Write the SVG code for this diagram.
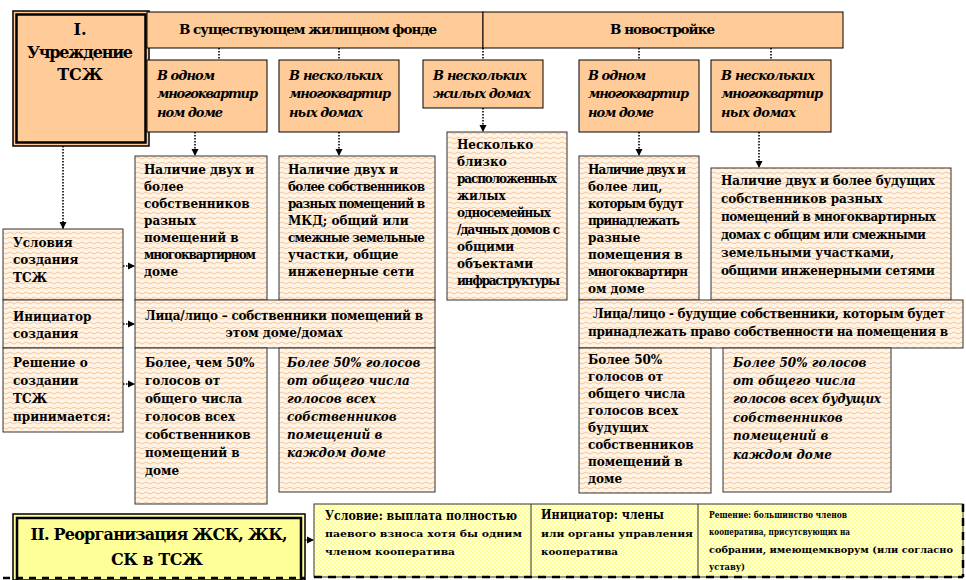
<svg xmlns="http://www.w3.org/2000/svg" width="966" height="580" viewBox="0 0 966 580">
<style>
.t{font-family:'DejaVu Serif','Liberation Serif',serif;font-weight:bold;font-size:12px;fill:#000}
.it{font-style:italic;font-size:13px}
.ii{font-style:italic}
.big{font-size:16px}
.band{font-size:13.5px}
.sm{font-size:9.5px}
.peach{fill:#FFCC99;stroke:#000;stroke-width:1}
.wv{fill:url(#wave);stroke:#333;stroke-width:1}
.conn{stroke:#000;stroke-width:1.6;stroke-dasharray:1.5 1.5;fill:none}
.arr{marker-end:url(#ah)}
</style>
<defs>
<pattern id="wave" width="8" height="5" patternUnits="userSpaceOnUse">
<rect width="8" height="5" fill="#FFF4E6"/>
<path d="M0,3 Q2,1 4,3 T8,3" fill="none" stroke="#F2C08C" stroke-width="0.9"/>
</pattern>
<pattern id="chk" width="4" height="4" patternUnits="userSpaceOnUse">
<rect width="4" height="4" fill="#FFFFE0"/>
<rect width="2" height="2" fill="#FFFF8C"/>
<rect x="2" y="2" width="2" height="2" fill="#FFFF8C"/>
</pattern>
<marker id="ah" markerWidth="8" markerHeight="8" refX="7" refY="4" orient="auto" markerUnits="userSpaceOnUse">
<path d="M0,0.5 L7,4 L0,7.5 z" fill="#000"/>
</marker>
</defs>

<g id="n-title1">
<rect x="13" y="11" width="136" height="135" fill="#FFCC99" stroke="#000" stroke-width="1.5"/>
<rect x="16.5" y="14.5" width="129" height="128" fill="none" stroke="#000" stroke-width="2.5"/>
<text class="t big" text-anchor="middle"><tspan x="80" y="35">I.</tspan><tspan x="80" y="58" textLength="106">Учреждение</tspan><tspan x="80" y="80">ТСЖ</tspan></text>
</g>

<g id="n-band-existing">
<rect class="peach" x="147" y="12" width="336" height="36"/>
<text class="t band" x="179" y="34" textLength="258">В существующем жилищном фонде</text>
</g>
<g id="n-band-new">
<rect class="peach" x="483" y="12" width="360" height="36"/>
<text class="t band" x="610" y="34" textLength="105">В новостройке</text>
</g>

<g id="n-ex-one">
<rect class="peach" x="147" y="60" width="120" height="72"/>
<text class="t it"><tspan x="157" y="80" textLength="58">В одном</tspan><tspan x="157" y="98" textLength="101">многоквартир</tspan><tspan x="157" y="117" textLength="66">ном доме</tspan></text>
</g>
<g id="n-ex-several">
<rect class="peach" x="279" y="60" width="120" height="72"/>
<text class="t it"><tspan x="289" y="80" textLength="94">В нескольких</tspan><tspan x="289" y="98" textLength="102">многоквартир</tspan><tspan x="289" y="117" textLength="74">ных домах</tspan></text>
</g>
<g id="n-ex-houses">
<rect class="peach" x="423" y="60" width="120" height="48"/>
<text class="t it"><tspan x="433" y="80" textLength="94">В нескольких</tspan><tspan x="433" y="98" textLength="98">жилых домах</tspan></text>
</g>
<g id="n-new-one">
<rect class="peach" x="579" y="60" width="120" height="72"/>
<text class="t it"><tspan x="588" y="80" textLength="58">В одном</tspan><tspan x="588" y="98" textLength="101">многоквартир</tspan><tspan x="588" y="117" textLength="66">ном доме</tspan></text>
</g>
<g id="n-new-several">
<rect class="peach" x="711" y="60" width="120" height="72"/>
<text class="t it"><tspan x="721" y="80" textLength="94">В нескольких</tspan><tspan x="721" y="98" textLength="102">многоквартир</tspan><tspan x="721" y="117" textLength="75">ных домах</tspan></text>
</g>

<g id="n-cond-label">
<rect class="wv" x="3" y="229" width="120" height="71"/>
<text class="t"><tspan x="13" y="247">Условия</tspan><tspan x="13" y="264">создания</tspan><tspan x="13" y="282">ТСЖ</tspan></text>
</g>
<g id="n-init-label">
<rect class="wv" x="3" y="300" width="120" height="48"/>
<text class="t"><tspan x="13" y="321">Инициатор</tspan><tspan x="13" y="338">создания</tspan></text>
</g>
<g id="n-dec-label">
<rect class="wv" x="3" y="348" width="120" height="84"/>
<text class="t"><tspan x="13" y="367">Решение о</tspan><tspan x="13" y="385">создании</tspan><tspan x="13" y="403">ТСЖ</tspan><tspan x="13" y="421">принимается:</tspan></text>
</g>

<g id="n-cond-ex-one">
<rect class="wv" x="135" y="156" width="132" height="144"/>
<text class="t"><tspan x="144" y="174">Наличие двух и</tspan><tspan x="144" y="191">более</tspan><tspan x="144" y="208">собственников</tspan><tspan x="144" y="225">разных</tspan><tspan x="144" y="242">помещений в</tspan><tspan x="144" y="259" textLength="112">многоквартирном</tspan><tspan x="144" y="276">доме</tspan></text>
</g>
<g id="n-cond-ex-several">
<rect class="wv" x="279" y="156" width="156" height="144"/>
<text class="t"><tspan x="288" y="174">Наличие двух и</tspan><tspan x="288" y="191" textLength="137">более собственников</tspan><tspan x="288" y="208" textLength="137">разных помещений в</tspan><tspan x="288" y="225">МКД; общий или</tspan><tspan x="288" y="242" textLength="137">смежные земельные</tspan><tspan x="288" y="259">участки, общие</tspan><tspan x="288" y="276">инженерные  сети</tspan></text>
</g>
<g id="n-cond-houses">
<rect class="wv" x="447" y="132" width="120" height="168"/>
<text class="t"><tspan x="457" y="149">Несколько</tspan><tspan x="457" y="166">близко</tspan><tspan x="457" y="183" textLength="100">расположенных</tspan><tspan x="457" y="200">жилых</tspan><tspan x="457" y="217" textLength="94">односемейных</tspan><tspan x="457" y="234" textLength="103">/дачных домов с</tspan><tspan x="457" y="251">общими</tspan><tspan x="457" y="268">объектами</tspan><tspan x="457" y="285" textLength="103">инфраструктуры</tspan></text>
</g>
<g id="n-cond-new-one">
<rect class="wv" x="579" y="156" width="120" height="144"/>
<text class="t"><tspan x="588" y="174" textLength="98">Наличие двух и</tspan><tspan x="588" y="191">более лиц,</tspan><tspan x="588" y="208" textLength="96">которым будут</tspan><tspan x="588" y="225" textLength="92">принадлежать</tspan><tspan x="588" y="242">разные</tspan><tspan x="588" y="259">помещения в</tspan><tspan x="588" y="276" textLength="100">многоквартирн</tspan><tspan x="588" y="293">ом доме</tspan></text>
</g>
<g id="n-cond-new-several">
<rect class="wv" x="711" y="168" width="240" height="132"/>
<text class="t"><tspan x="721" y="185" textLength="214">Наличие двух и более будущих</tspan><tspan x="721" y="203">собственников разных</tspan><tspan x="721" y="221" textLength="215">помещений в многоквартирных</tspan><tspan x="721" y="239" textLength="205">домах с общим или смежными</tspan><tspan x="721" y="257">земельными участками,</tspan><tspan x="721" y="275" textLength="214">общими инженерными сетями</tspan></text>
</g>

<g id="n-init-ex">
<rect class="wv" x="135" y="300" width="300" height="48"/>
<text class="t" text-anchor="middle"><tspan x="284" y="320" textLength="278">Лица/лицо – собственники помещений в</tspan><tspan x="284" y="337">этом доме/домах</tspan></text>
</g>
<g id="n-init-new">
<rect class="wv" x="579" y="300" width="384" height="48"/>
<text class="t" text-anchor="middle"><tspan x="769" y="318" textLength="352">Лица/лицо - будущие собственники, которым будет</tspan><tspan x="768" y="336" textLength="360">принадлежать право собственности на помещения в</tspan></text>
</g>

<g id="n-dec-ex-one">
<rect class="wv" x="135" y="348" width="132" height="156"/>
<text class="t"><tspan x="145" y="367">Более, чем 50%</tspan><tspan x="145" y="385">голосов от</tspan><tspan x="145" y="403">общего числа</tspan><tspan x="145" y="421">голосов всех</tspan><tspan x="145" y="439">собственников</tspan><tspan x="145" y="457">помещений в</tspan><tspan x="145" y="475">доме</tspan></text>
</g>
<g id="n-dec-ex-several">
<rect class="wv" x="279" y="348" width="156" height="144"/>
<text class="t ii"><tspan x="287" y="367">Более 50% голосов</tspan><tspan x="287" y="385">от общего числа</tspan><tspan x="287" y="403">голосов всех</tspan><tspan x="287" y="421">собственников</tspan><tspan x="287" y="439">помещений в</tspan><tspan x="287" y="457">каждом доме</tspan></text>
</g>
<g id="n-dec-new-one">
<rect class="wv" x="579" y="348" width="132" height="145"/>
<text class="t"><tspan x="588" y="364">Более 50%</tspan><tspan x="588" y="381">голосов от</tspan><tspan x="588" y="398">общего числа</tspan><tspan x="588" y="415">голосов всех</tspan><tspan x="588" y="432">будущих</tspan><tspan x="588" y="449">собственников</tspan><tspan x="588" y="466">помещений в</tspan><tspan x="588" y="483">доме</tspan></text>
</g>
<g id="n-dec-new-several">
<rect class="wv" x="723" y="348" width="168" height="144"/>
<text class="t ii"><tspan x="733" y="367">Более 50% голосов</tspan><tspan x="733" y="385">от общего числа</tspan><tspan x="733" y="403" textLength="148">голосов всех будущих</tspan><tspan x="733" y="422">собственников</tspan><tspan x="733" y="440">помещений в</tspan><tspan x="733" y="459">каждом доме</tspan></text>
</g>

<g id="n-title2">
<rect x="13" y="514" width="292" height="66" fill="#FFFF99" stroke="#000" stroke-width="1.5"/>
<rect x="17" y="518" width="284" height="66" fill="none" stroke="#000" stroke-width="2.5"/>
<line x1="3" y1="578" x2="305" y2="578" stroke="#000" stroke-width="2.5" stroke-dasharray="7 6"/>
<text class="t big" x="159" y="540" text-anchor="middle" textLength="257">II. Реорганизация ЖСК, ЖК,</text>
<text class="t big" x="157" y="565" text-anchor="middle" textLength="92">СК в ТСЖ</text>
</g>

<g id="n-reorg">
<rect x="314" y="504" width="649" height="73" fill="url(#chk)" stroke="#333" stroke-width="1"/>
<line x1="531" y1="504" x2="531" y2="577" stroke="#333" stroke-width="1"/>
<line x1="698" y1="504" x2="698" y2="577" stroke="#333" stroke-width="1"/>
<line x1="314" y1="577" x2="963" y2="577" stroke="#000" stroke-width="2.5" stroke-dasharray="8 6"/>
<line x1="963" y1="504" x2="963" y2="577" stroke="#000" stroke-width="2.5" stroke-dasharray="8 6"/>
<text class="t" x="325" y="520" font-size="10.5" textLength="192" lengthAdjust="spacingAndGlyphs">Условие: выплата полностью</text>
<text class="t sm" x="325" y="537" textLength="197" lengthAdjust="spacingAndGlyphs">паевого взноса хотя бы одним</text>
<text class="t sm" x="325" y="555" textLength="130" lengthAdjust="spacingAndGlyphs">членом кооператива</text>
<text class="t" x="541" y="519" font-size="10.5" textLength="123" lengthAdjust="spacingAndGlyphs">Инициатор: члены</text>
<text class="t sm" x="541" y="537" textLength="152" lengthAdjust="spacingAndGlyphs">или органы управления</text>
<text class="t sm" x="541" y="555" textLength="77" lengthAdjust="spacingAndGlyphs">кооператива</text>
<text class="t sm" x="709" y="518" textLength="138" lengthAdjust="spacingAndGlyphs">Решение:  большинство членов</text>
<text class="t sm" x="709" y="535" textLength="141" lengthAdjust="spacingAndGlyphs">кооператива, присутсвующих  на</text>
<text class="t sm" x="709" y="553" textLength="244" lengthAdjust="spacingAndGlyphs">собрании, имеющемкворум (или согласно</text>
<text class="t sm" x="709" y="570" textLength="36" lengthAdjust="spacingAndGlyphs">уставу)</text>
</g>

<g id="connectors">
<line class="conn" x1="219" y1="48" x2="219" y2="60"/>
<line class="conn" x1="339" y1="48" x2="339" y2="60"/>
<line class="conn" x1="483" y1="48" x2="483" y2="60"/>
<line class="conn" x1="639" y1="48" x2="639" y2="60"/>
<line class="conn" x1="771" y1="48" x2="771" y2="60"/>
<line class="conn arr" x1="195" y1="132" x2="195" y2="156"/>
<line class="conn arr" x1="339" y1="132" x2="339" y2="156"/>
<line class="conn arr" x1="483" y1="108" x2="483" y2="132"/>
<line class="conn arr" x1="639" y1="132" x2="639" y2="156"/>
<line class="conn arr" x1="759" y1="132" x2="759" y2="168"/>
<line class="conn arr" x1="63" y1="146" x2="63" y2="229"/>
<line class="conn arr" x1="123" y1="266" x2="135" y2="266"/>
<line class="conn arr" x1="123" y1="324" x2="135" y2="324"/>
<line class="conn arr" x1="123" y1="384" x2="135" y2="384"/>
<line class="conn arr" x1="305" y1="540" x2="314" y2="540"/>
</g>
</svg>
